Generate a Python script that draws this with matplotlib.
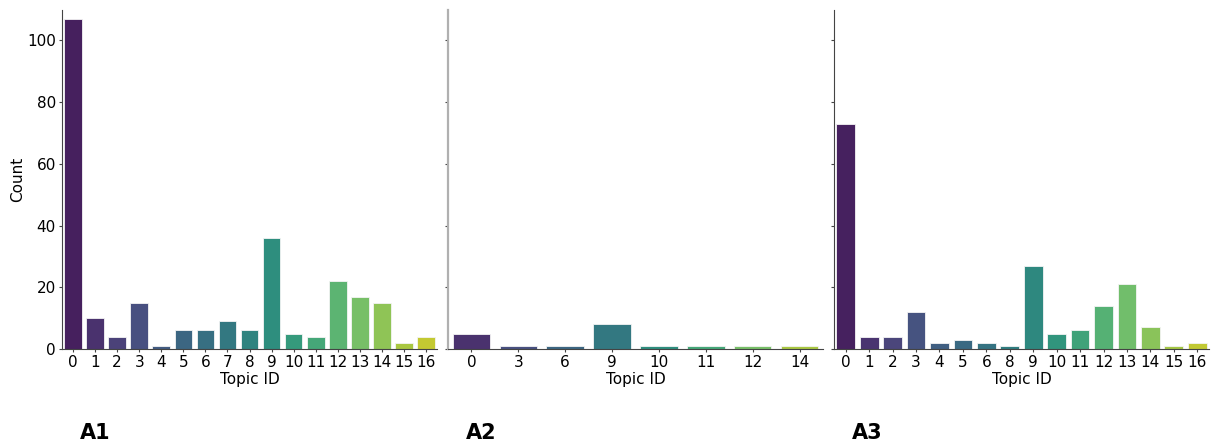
import matplotlib
matplotlib.use("Agg")
import matplotlib.pyplot as plt
import seaborn as sns
import pandas as pd

# topic counts per panel
a1_topics = list(range(17))
a1_counts = [107, 10, 4, 15, 1, 6, 6, 9, 6, 36, 5, 4, 22, 17, 15, 2, 4]

a2_topics = [0, 3, 6, 9, 10, 11, 12, 14]
a2_counts = [5, 1, 1, 8, 1, 1, 1, 1]

a3_topics = [0, 1, 2, 3, 4, 5, 6, 8, 9, 10, 11, 12, 13, 14, 15, 16]
a3_counts = [73, 4, 4, 12, 2, 3, 2, 1, 27, 5, 6, 14, 21, 7, 1, 2]

panels = [("A1", a1_topics, a1_counts),
          ("A2", a2_topics, a2_counts),
          ("A3", a3_topics, a3_counts)]

fig = plt.figure(figsize=(12.18, 4.47), dpi=100)
W, H = 1218, 447
lefts = [62, 448, 834]
aw = 375
bottom_px, top_px = 349, 9.5

axes = []
for i, (name, topics, counts) in enumerate(panels):
    ax = fig.add_axes([lefts[i] / W, (H - bottom_px) / H, aw / W, (bottom_px - top_px) / H],
                      sharey=axes[0] if axes else None)
    axes.append(ax)
    df = pd.DataFrame({"Topic ID": [str(t) for t in topics], "Count": counts})
    pal = sns.color_palette("viridis", len(topics))
    sns.barplot(data=df, x="Topic ID", y="Count", hue="Topic ID", palette=pal,
                legend=False, edgecolor="#f4f4f4", linewidth=0.6, ax=ax)
    ax.set_xlabel("Topic ID", fontsize=11, labelpad=1)
    ax.tick_params(labelsize=11, length=2.5, pad=2, color="#444444")
    ax.spines["top"].set_visible(False)
    ax.spines["right"].set_visible(False)
    for s in ("left", "bottom"):
        ax.spines[s].set_color("#444444")
    if i == 0:
        ax.set_ylabel("Count", fontsize=11, labelpad=1)
    else:
        ax.set_ylabel("")
        ax.tick_params(axis="y", labelleft=False)
    fig.text(lefts[i] / W + 18 / W, 0.031, name, fontsize=15, fontweight="bold",
             va="center", ha="left")

axes[0].set_ylim(0, 110)
axes[1].spines["left"].set_color("#b0b0b0")
axes[1].spines["left"].set_linewidth(1.6)

fig.savefig("out.png", dpi=100)
